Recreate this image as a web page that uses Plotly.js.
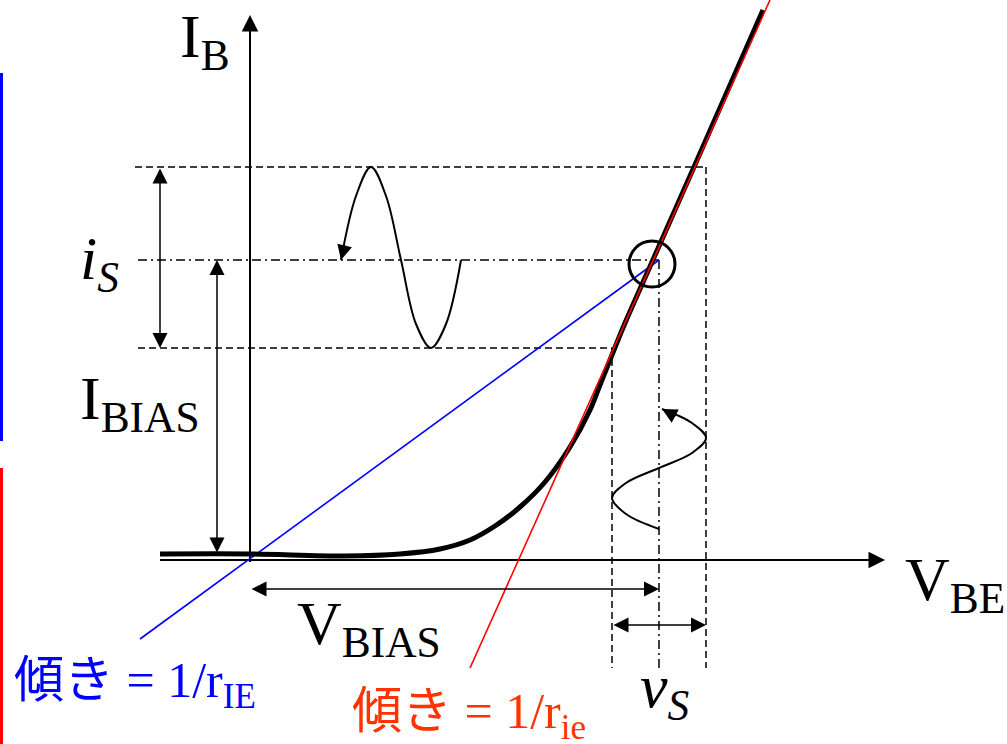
<!DOCTYPE html>
<html>
<head>
<meta charset="utf-8">
<script src="https://cdn.plot.ly/plotly-3.0.1.min.js"></script>
<style>
  html, body { margin: 0; padding: 0; background: #ffffff; overflow: hidden; }
  #chart { width: 1007px; height: 744px; }
</style>
</head>
<body>
<div id="chart"></div>
<script>
// Transistor input characteristic I_B(V_BE), drawing units with the origin at the axis crossing
const vbeCurve = [-90, 0, 95, 150, 190, 220, 245, 270, 295, 320, 340, 350, 375, 402, 444, 513];
const ibCurve  = [6, 6, 4, 6, 11, 20, 34, 53, 78, 113, 150, 175, 237, 298, 393, 550];

// Operating point and the signal swing around it
const vBias = 409, iBias = 300;
const vLow = 362, vHigh = 456;
const iLow = 212, iHigh = 393;

// Tangent at the operating point (slope 1/r_ie) and chord from the origin (slope 1/r_IE)
const tangentV = [220, 520];
const tangentI = [-108, 560];
const chordV = [-110, 409];
const chordI = [-79, 300];

// Input current wave i_S, drawn beside the I_B axis
const isWaveV = [91, 106, 121, 136, 151, 166, 181, 196, 211];
const isWaveI = [300, 364, 393, 364, 300, 236, 212, 236, 300];

// Input voltage wave v_S, drawn below the operating point (time runs upward)
const vsWaveV = [409, 376, 362, 376, 409, 442, 456, 442, 412];
const vsWaveI = [31, 46, 62, 77, 92, 107, 122, 137, 151];

// Axis extents
const vAxisStart = -90, vAxisEnd = 635;
const iAxisStart = -2, iAxisEnd = 545;
const guideBottom = -108;
const guideLeft = -115;

const SERIF = 'Liberation Serif, Times New Roman, serif';
const JP = 'Liberation Serif, Noto Sans CJK JP, serif';
const BLACK = '#000000';

const traces = [
  { // chord line
    x: chordV, y: chordI, mode: 'lines', hoverinfo: 'skip',
    line: { color: '#0000ff', width: 1.6 }
  },
  { // characteristic curve
    x: vbeCurve, y: ibCurve, mode: 'lines', hoverinfo: 'skip',
    line: { color: BLACK, width: 5, shape: 'spline', smoothing: 0.8 }
  },
  { // tangent line
    x: tangentV, y: tangentI, mode: 'lines', hoverinfo: 'skip',
    line: { color: '#ff0000', width: 1.6 }
  },
  { // current wave
    x: isWaveV, y: isWaveI, mode: 'lines', hoverinfo: 'skip',
    line: { color: BLACK, width: 2, shape: 'spline', smoothing: 1 }
  },
  { // voltage wave
    x: vsWaveV, y: vsWaveI, mode: 'lines', hoverinfo: 'skip',
    line: { color: BLACK, width: 2, shape: 'spline', smoothing: 1 }
  }
];

const DASH = '7px,4px';
const DASHDOT = '9px,4px,2px,4px';

function seg(x0, y0, x1, y1, dash, width) {
  return { type: 'line', xref: 'x', yref: 'y', x0, y0, x1, y1, layer: 'below',
           line: { color: BLACK, width: width || 1.5, dash: dash || 'solid' } };
}

const shapes = [
  // axis lines
  seg(0, iAxisStart, 0, iAxisEnd - 10, 'solid', 2),
  seg(vAxisStart, 0, vAxisEnd - 10, 0, 'solid', 2),
  // current swing guides
  seg(guideLeft, iHigh, vHigh, iHigh, DASH),
  seg(guideLeft + 3, iLow, vLow, iLow, DASH),
  seg(guideLeft + 3, iBias, vBias, iBias, DASHDOT),
  // voltage swing guides
  seg(vLow, iLow, vLow, guideBottom, DASH),
  seg(vHigh, iHigh, vHigh, guideBottom, DASH),
  seg(vBias, iBias, vBias, guideBottom, DASHDOT),
  // operating point marker
  { type: 'circle', xref: 'x', yref: 'y', x0: vBias - 30, x1: vBias + 16, y0: iBias - 27, y1: iBias + 19,
    line: { color: BLACK, width: 3 } },
  // side bars
  { type: 'rect', xref: 'paper', yref: 'paper', x0: 0, x1: 3 / 1007, y0: 1 - 441 / 744, y1: 1 - 73 / 744,
    fillcolor: '#0000ff', line: { width: 0 } },
  { type: 'rect', xref: 'paper', yref: 'paper', x0: 0, x1: 3 / 1007, y0: 0, y1: 1 - 468 / 744,
    fillcolor: '#ff0000', line: { width: 0 } }
];

function arrow(x, y, ax, ay, both, width, size) {
  return {
    x, y, ax, ay, xref: 'x', yref: 'y', axref: 'x', ayref: 'y',
    text: '', showarrow: true, arrowhead: 2, startarrowhead: 2,
    arrowside: both ? 'end+start' : 'end',
    arrowwidth: width || 1.5, arrowsize: size || 2, startarrowsize: size || 2,
    arrowcolor: BLACK, standoff: 0, startstandoff: 0
  };
}

function label(x, y, text, size, color, family) {
  return {
    x, y, xref: 'x', yref: 'y', text, showarrow: false,
    xanchor: 'left', yanchor: 'middle',
    font: { family: family || SERIF, size, color: color || BLACK }
  };
}

const annotations = [
  // axis arrowheads
  arrow(0, iAxisEnd, 0, iAxisEnd - 30, false, 2, 1.65),
  arrow(vAxisEnd, 0, vAxisEnd - 30, 0, false, 2, 1.65),
  // dimension arrows
  arrow(-90, iLow, -90, iHigh, true, 1.5, 2),
  arrow(-33, iBias, -33, 6, true, 1.5, 2),
  arrow(vBias, -29, 0, -29, true, 1.5, 2),
  arrow(vHigh, -65, vLow, -65, true, 1.5, 2),
  // wave direction arrowheads
  arrow(isWaveV[0], isWaveI[0], isWaveV[0] + 4, isWaveI[0] + 16, false, 2, 1.5),
  arrow(vsWaveV[8], vsWaveI[8], vsWaveV[8] + 15, vsWaveI[8] - 8, false, 2, 1.5),
  // labels
  label(-72, 520, 'I<sub>B</sub>', 62),
  label(-172, 298, '<i>i</i><sub><i>S</i></sub>', 62),
  label(-172, 158, 'I<sub>BIAS</sub>', 62),
  label(45, -67, 'V<sub>BIAS</sub>', 62),
  label(388, -130, '<i>v</i><sub><i>S</i></sub>', 62),
  label(653, -23, 'V<sub>BE</sub>', 62),
  label(-238, -124, '傾き = 1/r<sub>IE</sub>', 50, '#0000ff', JP),
  label(100, -155, '傾き = 1/r<sub>ie</sub>', 50, '#ff3300', JP)
];

const layout = {
  width: 1007, height: 744,
  margin: { l: 0, r: 0, t: 0, b: 0 },
  paper_bgcolor: '#ffffff', plot_bgcolor: '#ffffff',
  showlegend: false,
  xaxis: { range: [-250, 757], visible: false, fixedrange: true },
  yaxis: { range: [-184, 560], visible: false, fixedrange: true },
  shapes, annotations
};

Plotly.newPlot('chart', traces, layout, { staticPlot: true, displayModeBar: false });
</script>
</body>
</html>
